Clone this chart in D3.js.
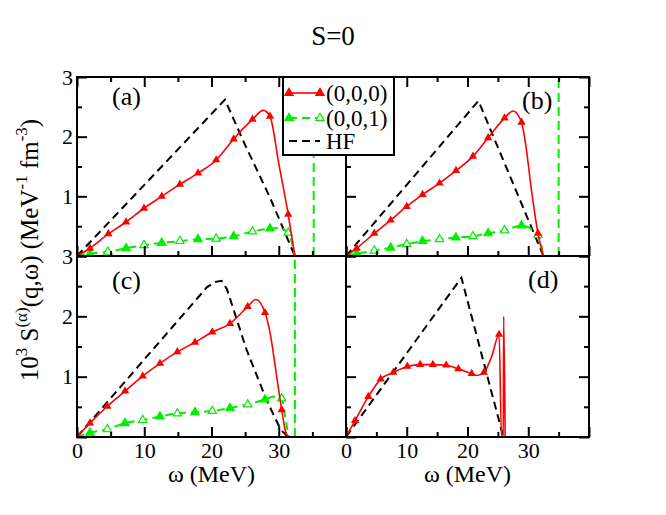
<!DOCTYPE html>
<html><head><meta charset="utf-8">
<script src="https://cdn.jsdelivr.net/npm/d3@7"></script>
<style>
body{margin:0;background:#fff}
svg text{font-family:"Liberation Serif","Times New Roman",Times,"Nimbus Roman","DejaVu Serif",serif !important;fill:#000}
</style>
</head><body>
<svg id="chart" width="666" height="515"></svg>
<script>
// ---------------- DATA ----------------
const title = "S=0";
const xMajorTicks = [0, 10, 20, 30, 40];
const xMinorTicks = [5, 15, 25, 35];
const xTickLabels = [0, 10, 20, 30];
const yMajorTicks = [0, 1, 2, 3];
const yMinorTicks = [0.5, 1.5, 2.5];
const yTickLabels = [1, 2, 3];
const seriesNames = ["(0,0,0)", "(0,0,1)", "HF"];
const panelLabels = ["(a)", "(b)", "(c)", "(d)"];

// panel (a)
const hfA = [[0,0],[22.0,2.62],[25.0,1.86],[28.7,0.98],[32.4,0]];
const redAMarks = [[1.93,0.13],[4.66,0.37],[7.29,0.57],[9.96,0.80],[12.6,1.0],[15.3,1.2],[18.0,1.39],[20.7,1.61],[23.3,1.96],[26.1,2.29],[28.7,2.34],[31.4,0.70]];
const redAExtra = [[0,0],[22.0,1.78],[27.7,2.44],[30.0,1.55],[32.4,0]];
const greenAMarks = [[1.93,0.04],[4.6,0.07],[7.3,0.13],[9.96,0.18],[12.6,0.22],[15.3,0.25],[18.0,0.28],[20.7,0.29],[23.3,0.33],[26.1,0.41],[28.7,0.46],[31.4,0.39]];
const greenAExtra = [[0,0],[30.0,0.47],[32.4,0]];
const greenADelta = [35.2];

// panel (b)
const hfB = [[0,0],[21.8,2.6],[32.5,0]];
const redBMarks = [[1.76,0.13],[4.66,0.38],[7.35,0.60],[9.99,0.83],[12.6,1.03],[15.4,1.22],[18.1,1.43],[20.9,1.67],[23.4,1.98],[26.1,2.31],[28.9,2.24],[31.6,0.38]];
const redBExtra = [[0,0],[27.5,2.43],[29.6,1.85],[30.6,1.05],[32.5,0]];
const greenBMarks = [[1.76,0.04],[4.66,0.09],[7.35,0.14],[9.99,0.20],[12.6,0.25],[15.4,0.28],[18.1,0.31],[20.9,0.33],[23.4,0.38],[26.1,0.43],[28.9,0.51],[31.6,0.35]];
const greenBExtra = [[0,0],[32.5,0]];
const greenBDelta = [35.0];

// panel (c)
const hfC = [[0,0],[19.3,2.48],[20.5,2.57],[21.5,2.59],[22.3,2.45],[25.2,1.45],[28.2,0.61],[30.3,0.12],[31.4,0]];
const redCMarks = [[1.93,0.23],[4.51,0.51],[7.14,0.76],[9.77,1.01],[12.34,1.22],[14.92,1.41],[17.55,1.57],[20.12,1.74],[22.75,1.88],[25.38,2.16],[27.96,2.06],[30.44,0.45]];
const redCExtra = [[0,0],[26.6,2.28],[28.7,1.73],[29.7,1.0],[31.0,0.1],[31.4,0]];
const greenCMarks = [[1.93,0.07],[4.51,0.13],[7.14,0.23],[9.77,0.28],[12.34,0.34],[14.92,0.39],[17.55,0.41],[20.12,0.43],[22.75,0.48],[25.38,0.54],[27.96,0.62],[30.44,0.64]];
const greenCExtra = [[0,0],[29.2,0.67],[31.0,0.3],[31.5,0]];
const greenCDelta = [32.4];

// panel (d)
const hfD = [[0,0],[19.0,2.64],[25.9,0]];
const redDMarks = [[1.48,0.27],[3.68,0.67],[5.71,0.96],[7.79,1.07],[10.1,1.17],[12.2,1.2],[14.3,1.2],[16.5,1.19],[18.5,1.13],[20.7,1.05],[22.7,1.07],[25.2,1.7]];
const redDExtra = [[0,0],[21.6,1.02],[24.0,1.34],[25.6,0],[25.9,0],[25.95,2.0],[26.2,0]];
const greenDMarks = [];
const greenDExtra = [];
const greenDDelta = [];

// ---------------- LAYOUT ----------------
const FONT = '"Liberation Serif","Times New Roman",Times,"Nimbus Roman","DejaVu Serif",serif';
const panels = [
  {x0:77, x1:346, y0:77,  y1:256, top:true,  right:false, xl:false, yl:true,  lx:112, ly:105,
   hf:hfA, rm:redAMarks, re:redAExtra, gm:greenAMarks, ge:greenAExtra, gd:greenADelta},
  {x0:346,x1:589, y0:77,  y1:256, top:true,  right:true,  xl:false, yl:false, lx:522, ly:109,
   hf:hfB, rm:redBMarks, re:redBExtra, gm:greenBMarks, ge:greenBExtra, gd:greenBDelta},
  {x0:77, x1:346, y0:256, y1:437, top:false, right:false, xl:true,  yl:true,  lx:112, ly:289,
   hf:hfC, rm:redCMarks, re:redCExtra, gm:greenCMarks, ge:greenCExtra, gd:greenCDelta},
  {x0:346,x1:589, y0:256, y1:437, top:false, right:true,  xl:true,  yl:false, lx:528, ly:288,
   hf:hfD, rm:redDMarks, re:redDExtra, gm:greenDMarks, ge:greenDExtra, gd:greenDDelta}
];
const RED = "#ff0000", GREEN = "#00ee00";
const svg = d3.select("#chart").attr("font-family", FONT);
const defs = svg.append("defs");
const tri = d3.symbol().type(d3.symbolTriangle).size(30);

const merge = (a, b) => a.concat(b).sort((p, q) => p[0] - q[0]);

panels.forEach((p, i) => {
  const x = d3.scaleLinear().domain([0, 40]).range([p.x0, p.x1]);
  const y = d3.scaleLinear().domain([0, 3]).range([p.y1, p.y0]);
  const cid = "clip" + i;
  defs.append("clipPath").attr("id", cid).append("rect")
    .attr("x", p.x0).attr("y", p.y0).attr("width", p.x1 - p.x0).attr("height", p.y1 - p.y0);
  const g = svg.append("g");
  const plot = g.append("g").attr("clip-path", `url(#${cid})`);

  const lineLin = d3.line().x(d => x(d[0])).y(d => y(d[1]));
  const lineMono = d3.line().x(d => x(d[0])).y(d => y(d[1])).curve(d3.curveMonotoneX);

  plot.append("path").datum(p.hf).attr("d", lineLin)
    .attr("fill", "none").attr("stroke", "#000").attr("stroke-width", 2).attr("stroke-dasharray", "8,5");
  if (p.ge.length) {
    plot.append("path").datum(merge(p.gm, p.ge)).attr("d", lineMono)
      .attr("fill", "none").attr("stroke", GREEN).attr("stroke-width", 2).attr("stroke-dasharray", "8,5");
  }
  p.gd.forEach(w => {
    plot.append("line").attr("x1", x(w)).attr("x2", x(w)).attr("y1", y(0)).attr("y2", y(3))
      .attr("stroke", GREEN).attr("stroke-width", 2).attr("stroke-dasharray", "9,5");
  });
  plot.selectAll(".gm").data(p.gm).enter().append("path")
    .attr("d", tri).attr("transform", d => `translate(${x(d[0])},${y(d[1])})`)
    .attr("fill", (d, k) => k % 2 ? "#fff" : GREEN).attr("stroke", GREEN).attr("stroke-width", 1.2);
  plot.append("path").datum(merge(p.rm, p.re)).attr("d", lineMono)
    .attr("fill", "none").attr("stroke", RED).attr("stroke-width", 1.6);
  plot.selectAll(".rm").data(p.rm).enter().append("path")
    .attr("d", tri).attr("transform", d => `translate(${x(d[0])},${y(d[1])})`)
    .attr("fill", RED);

  const axG = g.append("g");
  const addAxis = (gen, tr) => {
    const a = axG.append("g").attr("transform", tr).call(gen);
    a.attr("font-family", FONT).attr("font-size", 22);
    a.select(".domain").remove();
    a.selectAll("line").attr("stroke-width", 2);
    a.selectAll("text").attr("font-family", FONT).style("font-size", "22px");
    return a;
  };
  addAxis(d3.axisBottom(x).tickValues(xMajorTicks).tickSize(-10).tickPadding(5)
    .tickFormat(d => p.xl && xTickLabels.includes(d) ? d : ""), `translate(0,${p.y1})`);
  addAxis(d3.axisBottom(x).tickValues(xMinorTicks).tickSize(-5).tickFormat(""), `translate(0,${p.y1})`);
  addAxis(d3.axisLeft(y).tickValues(yMajorTicks).tickSize(-10).tickPadding(4)
    .tickFormat(d => p.yl && yTickLabels.includes(d) ? d : ""), `translate(${p.x0},0)`);
  addAxis(d3.axisLeft(y).tickValues(yMinorTicks).tickSize(-5).tickFormat(""), `translate(${p.x0},0)`);
  if (p.top) {
    addAxis(d3.axisTop(x).tickValues(xMajorTicks).tickSize(-10).tickFormat(""), `translate(0,${p.y0})`);
    addAxis(d3.axisTop(x).tickValues(xMinorTicks).tickSize(-5).tickFormat(""), `translate(0,${p.y0})`);
  }
  if (p.right) {
    addAxis(d3.axisRight(y).tickValues(yMajorTicks).tickSize(-10).tickFormat(""), `translate(${p.x1},0)`);
    addAxis(d3.axisRight(y).tickValues(yMinorTicks).tickSize(-5).tickFormat(""), `translate(${p.x1},0)`);
  }
  g.append("rect").attr("x", p.x0).attr("y", p.y0).attr("width", p.x1 - p.x0).attr("height", p.y1 - p.y0)
    .attr("fill", "none").attr("stroke", "#000").attr("stroke-width", 2);
  g.append("text").attr("x", p.lx).attr("y", p.ly).style("font-size", "26px").text(panelLabels[i]);
  if (p.xl) {
    g.append("text").attr("x", (p.x0 + p.x1) / 2).attr("y", 482).attr("text-anchor", "middle")
      .style("font-size", "24px").text("ω (MeV)");
  }
});

svg.append("text").attr("x", 333).attr("y", 45).attr("text-anchor", "middle")
  .style("font-size", "27px").text(title);

const yl = svg.append("text").attr("transform", "translate(38,250) rotate(-90)")
  .attr("text-anchor", "middle").style("font-size", "25px");
const parts = [["10",0],["3",1],[" S",0],["(α)",1],["(q,ω) (MeV",0],["-1",1],[" fm",0],["-3",1],[")",0]];
let prev = 0;
parts.forEach(([t, s]) => {
  const target = s ? -11 : 0;
  yl.append("tspan").attr("dy", target - prev).style("font-size", s ? "17px" : "25px").text(t);
  prev = target;
});

const lg = svg.append("g");
lg.append("rect").attr("x", 283).attr("y", 77).attr("width", 111).attr("height", 78)
  .attr("fill", "#fff").attr("stroke", "#000").attr("stroke-width", 2);
const legRows = [93, 118, 141];
const legStyles = [
  {c: RED, dash: null, m: true, w: 1.6},
  {c: GREEN, dash: "8,5", m: true, w: 2},
  {c: "#000", dash: "8,5", m: false, w: 2}
];
seriesNames.forEach((n, k) => {
  const yy = legRows[k], s = legStyles[k];
  lg.append("line").attr("x1", 289).attr("x2", 320).attr("y1", yy).attr("y2", yy)
    .attr("stroke", s.c).attr("stroke-width", s.w).attr("stroke-dasharray", s.dash);
  if (s.m) {
    [289, 320].forEach((xx, j) => {
      lg.append("path").attr("d", tri).attr("transform", `translate(${xx},${yy})`)
        .attr("fill", k === 1 && j === 1 ? "#fff" : s.c).attr("stroke", s.c).attr("stroke-width", 1.2);
    });
  }
  lg.append("text").attr("x", 326).attr("y", yy + 8).style("font-size", "23px").text(n);
});
</script>
</body></html>
